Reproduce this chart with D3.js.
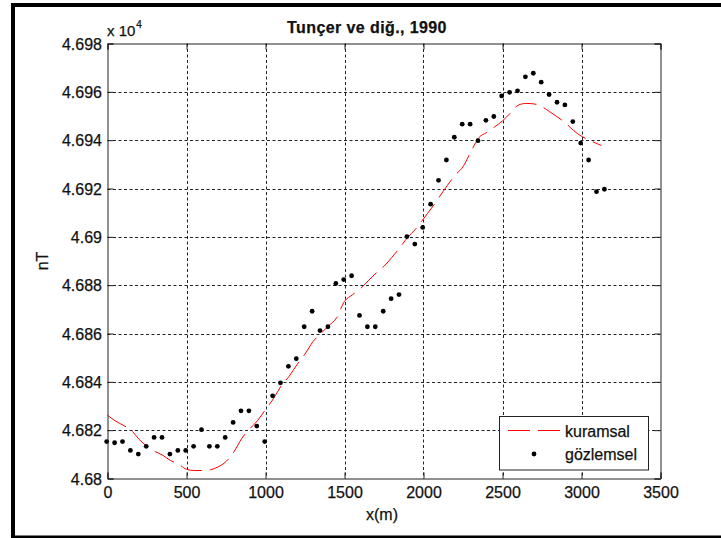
<!DOCTYPE html>
<html>
<head>
<meta charset="utf-8">
<script src="https://cdn.jsdelivr.net/npm/d3@7"></script>
<style>
  html, body { margin: 0; padding: 0; background: #fff; }
  svg { display: block; }
  text { font-family: "Liberation Sans", Arial, Helvetica, sans-serif; fill: #111; stroke: #111; stroke-width: 0.25px; }
</style>
</head>
<body>
<div id="chart"></div>
<script>
// ---- data ----
const titleText = "Tunçer ve diğ., 1990";
const xLabel = "x(m)";
const yLabel = "nT";
const xTicks = [0, 500, 1000, 1500, 2000, 2500, 3000, 3500];
const xTickLabels = ["0", "500", "1000", "1500", "2000", "2500", "3000", "3500"];
const yTicks = [4.68, 4.682, 4.684, 4.686, 4.688, 4.69, 4.692, 4.694, 4.696, 4.698];
const yTickLabels = ["4.68", "4.682", "4.684", "4.686", "4.688", "4.69", "4.692", "4.694", "4.696", "4.698"];
const seriesNames = ["kuramsal", "gözlemsel"];

// observed (gözlemsel), values in units of 1e4 nT
const obsX = [0, 50, 100, 150, 200, 250, 300, 350, 400, 450, 500, 550, 600, 650, 700, 750,
  800, 850, 900, 950, 1000, 1050, 1100, 1150, 1200, 1250, 1300, 1350, 1400, 1450, 1500, 1550,
  1600, 1650, 1700, 1750, 1800, 1850, 1900, 1950, 2000, 2050, 2100, 2150, 2200, 2250, 2300, 2350,
  2400, 2450, 2500, 2550, 2600, 2650, 2700, 2750, 2800, 2850, 2900, 2950, 3000, 3050, 3100, 3150];
const obsY = [4.68153, 4.68148, 4.68153, 4.68116, 4.68101, 4.68133, 4.68170, 4.68170, 4.68101, 4.68116,
  4.68116, 4.68133, 4.68202, 4.68133, 4.68133, 4.68170, 4.68232, 4.68280, 4.68280, 4.68217,
  4.68153, 4.68342, 4.68396, 4.68464, 4.68496, 4.68628, 4.68692, 4.68612, 4.68628, 4.68807,
  4.68823, 4.68839, 4.68675, 4.68628, 4.68628, 4.68692, 4.68744, 4.68761, 4.69001, 4.68970,
  4.69039, 4.69135, 4.69234, 4.69318, 4.69412, 4.69466, 4.69466, 4.69398, 4.69482, 4.69498,
  4.69583, 4.69598, 4.69604, 4.69662, 4.69677, 4.69640, 4.69589, 4.69557, 4.69546, 4.69477,
  4.69388, 4.69318, 4.69187, 4.69197];

// theoretical (kuramsal)
const theoX = [0, 50, 100, 150, 200, 250, 300, 350, 400, 450, 500, 550, 600, 650, 700, 750,
  800, 850, 900, 950, 1000, 1050, 1100, 1150, 1200, 1250, 1300, 1350, 1400, 1450, 1500, 1550,
  1600, 1650, 1700, 1750, 1800, 1850, 1900, 1950, 2000, 2050, 2100, 2150, 2200, 2250, 2300, 2350,
  2400, 2450, 2500, 2550, 2600, 2650, 2700, 2750, 2800, 2850, 2900, 2950, 3000, 3050, 3100, 3125];
const theoY = [4.68262, 4.68238, 4.68220, 4.68200, 4.68162, 4.68133, 4.68112, 4.68096, 4.68074, 4.68060,
  4.68038, 4.68033, 4.68033, 4.68036, 4.68048, 4.68070, 4.68110, 4.68166, 4.68205, 4.68240,
  4.68285, 4.68330, 4.68384, 4.68423, 4.68472, 4.68515, 4.68566, 4.68600, 4.68632, 4.68665,
  4.68733, 4.68760, 4.68785, 4.68818, 4.68850, 4.68878, 4.68915, 4.68955, 4.68998, 4.69032,
  4.69075, 4.69118, 4.69165, 4.69212, 4.69255, 4.69290, 4.69352, 4.69410, 4.69432, 4.69455,
  4.69480, 4.69512, 4.69545, 4.69552, 4.69550, 4.69538, 4.69517, 4.69495, 4.69470, 4.69440,
  4.69416, 4.69400, 4.69385, 4.69378];

// ---- layout ----
const W = 721, H = 538;
const L = 107.5, R = 660.5, T = 43.5, B = 478.5;

const svg = d3.select("#chart").append("svg").attr("width", W).attr("height", H);

// figure frame
svg.append("rect").attr("x", 0).attr("y", 0).attr("width", W).attr("height", H).attr("fill", "#fff");
svg.append("rect").attr("x", 11).attr("y", 3).attr("width", W - 11).attr("height", 4).attr("fill", "#000");
svg.append("rect").attr("x", 11).attr("y", 3).attr("width", 4).attr("height", H - 3).attr("fill", "#000");
svg.append("rect").attr("x", 11).attr("y", 535.5).attr("width", W - 11).attr("height", 3).attr("fill", "#000");

const x = d3.scaleLinear().domain([0, 3500]).range([L, R]);
const y = d3.scaleLinear().domain([4.68, 4.698]).range([B, T]);

// plot background
svg.append("rect").attr("x", L).attr("y", T).attr("width", R - L).attr("height", B - T).attr("fill", "#fff");

// grid
const grid = svg.append("g").attr("stroke", "#222").attr("stroke-width", 1).attr("stroke-dasharray", "3,2.5");
grid.selectAll("line.gx").data(xTicks.slice(1, -1)).join("line")
  .attr("x1", d => Math.round(x(d)) + 0.5).attr("x2", d => Math.round(x(d)) + 0.5)
  .attr("y1", T).attr("y2", B);
grid.selectAll("line.gy").data(yTicks.slice(1, -1)).join("line")
  .attr("y1", d => Math.round(y(d)) + 0.5).attr("y2", d => Math.round(y(d)) + 0.5)
  .attr("x1", L).attr("x2", R);

// theoretical curve
const theo = theoX.map((d, i) => [d, theoY[i]]);
svg.append("path").datum(theo)
  .attr("fill", "none").attr("stroke", "#ff0000").attr("stroke-width", 1)
  .attr("stroke-dasharray", "22,8")
  .attr("d", d3.line().x(d => x(d[0])).y(d => y(d[1])).curve(d3.curveMonotoneX));

// observed dots
const obs = obsX.map((d, i) => [d, obsY[i]]);
svg.append("g").selectAll("circle").data(obs).join("circle")
  .attr("cx", d => x(d[0]) - 0.8).attr("cy", d => y(d[1])).attr("r", 2.4).attr("fill", "#000");

// axes
const axB = svg.append("g").attr("transform", `translate(0,${B})`)
  .call(d3.axisBottom(x).tickValues(xTicks).tickFormat((d, i) => xTickLabels[i]).tickSize(-6).tickPadding(12));
const axT = svg.append("g").attr("transform", `translate(0,${T})`)
  .call(d3.axisTop(x).tickValues(xTicks).tickFormat("").tickSize(-6));
const axL = svg.append("g").attr("transform", `translate(${L},0)`)
  .call(d3.axisLeft(y).tickValues(yTicks).tickFormat((d, i) => yTickLabels[i]).tickSize(-6).tickPadding(5));
const axR = svg.append("g").attr("transform", `translate(${R},0)`)
  .call(d3.axisRight(y).tickValues(yTicks).tickFormat("").tickSize(-6));
[axB, axT, axL, axR].forEach(a => {
  a.select(".domain").attr("stroke", "#222").attr("stroke-width", 1);
  a.selectAll(".tick line").attr("stroke", "#222");
  a.selectAll("text").style("font-size", "16px").attr("fill", "#111")
    .style("font-family", "'Liberation Sans', Arial, sans-serif");
});
axB.selectAll(".tick text").attr("dy", "0.71em").attr("y", 8);
axL.selectAll(".tick text").attr("dy", "0.36em").attr("x", -5.5);

// exponent label
const expo = svg.append("text").attr("x", 107).attr("y", 36).style("font-size", "15px");
expo.append("tspan").text("x 10");
expo.append("tspan").attr("dx", 1).attr("dy", -8).style("font-size", "10px").text("4");

// title
svg.append("text").attr("x", 367).attr("y", 33).attr("text-anchor", "middle")
  .style("font-size", "16px").style("font-weight", "bold").style("letter-spacing", "0.4px").text(titleText);

// axis labels
svg.append("text").attr("x", 382).attr("y", 520).attr("text-anchor", "middle")
  .style("font-size", "16px").text(xLabel);
svg.append("text").attr("transform", "translate(48,261) rotate(-90)").attr("text-anchor", "middle")
  .style("font-size", "16px").text(yLabel);

// legend
const lg = svg.append("g");
lg.append("rect").attr("x", 499.5).attr("y", 416.5).attr("width", 149).attr("height", 53.5)
  .attr("fill", "#fff").attr("stroke", "#222").attr("stroke-width", 1);
lg.append("line").attr("x1", 508).attr("x2", 560).attr("y1", 430.5).attr("y2", 430.5)
  .attr("stroke", "#ff0000").attr("stroke-width", 1).attr("stroke-dasharray", "22,8");
lg.append("circle").attr("cx", 534).attr("cy", 454).attr("r", 2.4).attr("fill", "#000");
lg.append("text").attr("x", 565).attr("y", 437).style("font-size", "16px").text(seriesNames[0]);
lg.append("text").attr("x", 565).attr("y", 460).style("font-size", "16px").text(seriesNames[1]);
</script>
</body>
</html>
